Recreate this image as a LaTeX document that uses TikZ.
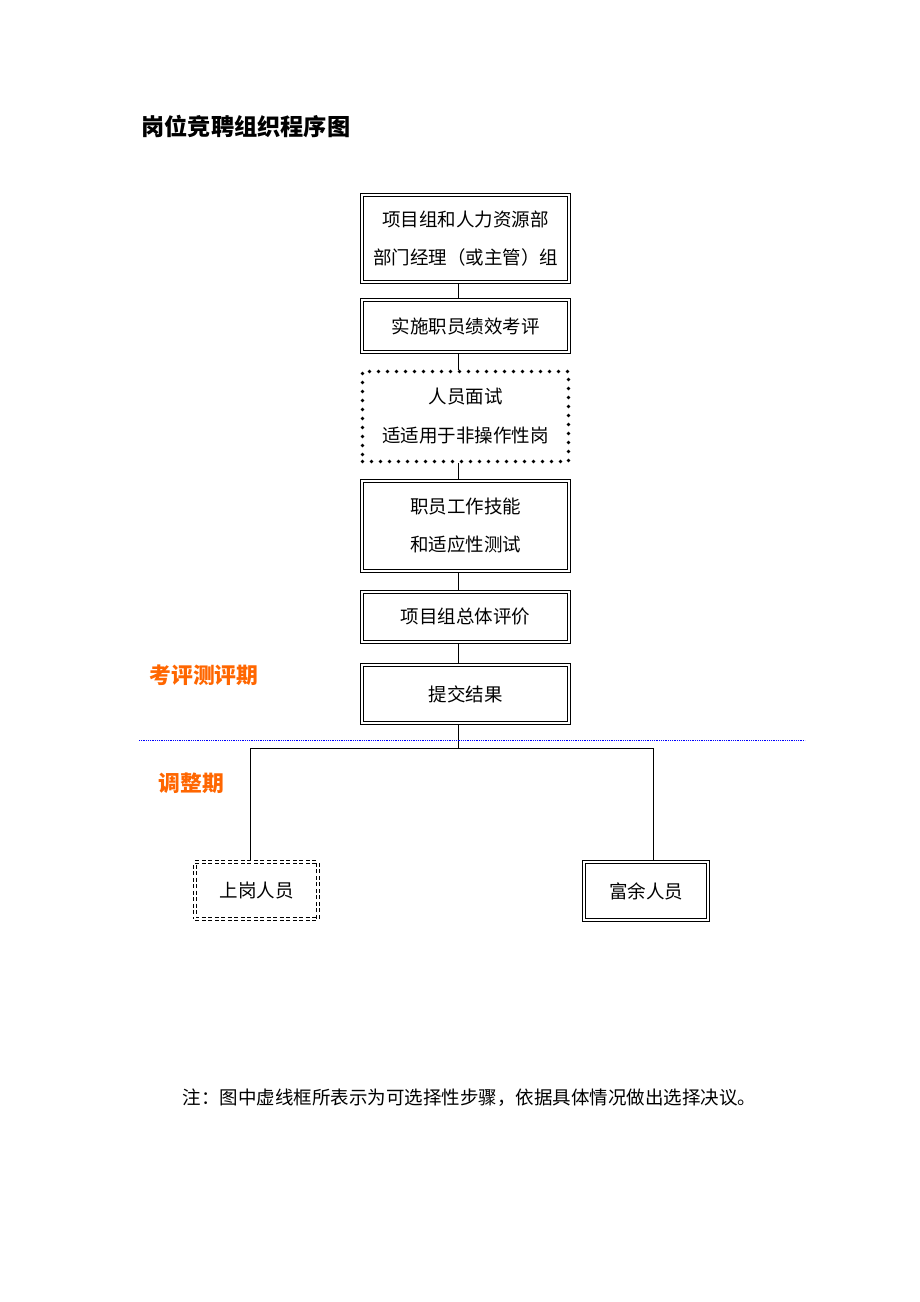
\documentclass[tikz,border=0pt]{standalone}
\usepackage{fontspec}
\newfontfamily\cjk{Noto Sans CJK SC}
\usetikzlibrary{positioning}
\definecolor{phase}{RGB}{255,102,0}

\begin{document}
\begin{tikzpicture}[x=1pt,y=-1pt,
  stepbox/.style={draw, double, double distance=2pt, line width=0.9pt, inner sep=0pt, outer sep=2pt,
    align=center, font=\cjk\fontsize{18.5}{38}\selectfont},
  dotbox/.style={draw, line width=3.6pt, line cap=round, dash pattern=on 0pt off 9pt, inner sep=0pt,
    outer sep=1.8pt, align=center, font=\cjk\fontsize{18.5}{39}\selectfont},
  dashbox/.style={stepbox, line width=1.1pt, dash pattern=on 4pt off 2.5pt},
  phaselabel/.style={anchor=west, text=phase, font=\cjk\bfseries\fontsize{21.8}{24}\selectfont},
  link/.style={line width=0.8pt}]
\useasboundingbox (0,0) rectangle (920,1302);

\node[anchor=west, font=\cjk\bfseries\fontsize{23.2}{26}\selectfont] (title) at (138,127) {岗位竞聘组织程序图};

% flow boxes
\node[stepbox, minimum width=207, minimum height=87] (b1) at (465.5,238.5) {项目组和人力资源部\\部门经理（或主管）组};
\node[stepbox, minimum width=207, minimum height=52] (b2) at (465.5,326) {实施职员绩效考评};
\node[dotbox, minimum width=206, minimum height=90] (b3) at (465.5,416.5) {人员面试\\适适用于非操作性岗};
\node[stepbox, minimum width=207, minimum height=90] (b4) at (465.5,526) {职员工作技能\\和适应性测试};
\node[stepbox, minimum width=207, minimum height=50] (b5) at (465.5,617) {项目组总体评价};
\node[stepbox, minimum width=207, minimum height=58] (b6) at (465.5,694) {提交结果};
\node[dashbox, minimum width=123, minimum height=57] (b7) at (256.5,890.5) {上岗人员};
\node[stepbox, minimum width=124, minimum height=58] (b8) at (646,891) {富余人员};

\coordinate (spine) at (458,0);
\draw[link] (b1.south -| spine) -- (b2.north -| spine);
\draw[link] (b2.south -| spine) -- (b3.north -| spine);
\draw[link] (b3.south -| spine) -- (b4.north -| spine);
\draw[link] (b4.south -| spine) -- (b5.north -| spine);
\draw[link] (b5.south -| spine) -- (b6.north -| spine);

% split into the two results
\coordinate (fork) at (458,748);
\coordinate (lft) at (250,748);
\coordinate (rgt) at (653,748);
\draw[link] (b6.south -| spine) -- (fork);
\draw[link] (lft) -- (rgt);
\draw[link] (lft) -- (b7.north -| lft);
\draw[link] (rgt) -- (b8.north -| rgt);

% phase divider
\coordinate (divl) at (139,740);
\coordinate (divr) at (805,740);
\draw[blue, line width=0.8pt, dash pattern=on 0.8pt off 1pt] (divl) -- (divr);
\node[phaselabel] (p1) at (146,675) {考评测评期};
\node[phaselabel] (p2) at (155,783) {调整期};

\node[anchor=west, font=\cjk\fontsize{18.5}{20}\selectfont] (note) at (179,1098) {注：图中虚线框所表示为可选择性步骤，依据具体情况做出选择决议。};
\end{tikzpicture}
\end{document}
